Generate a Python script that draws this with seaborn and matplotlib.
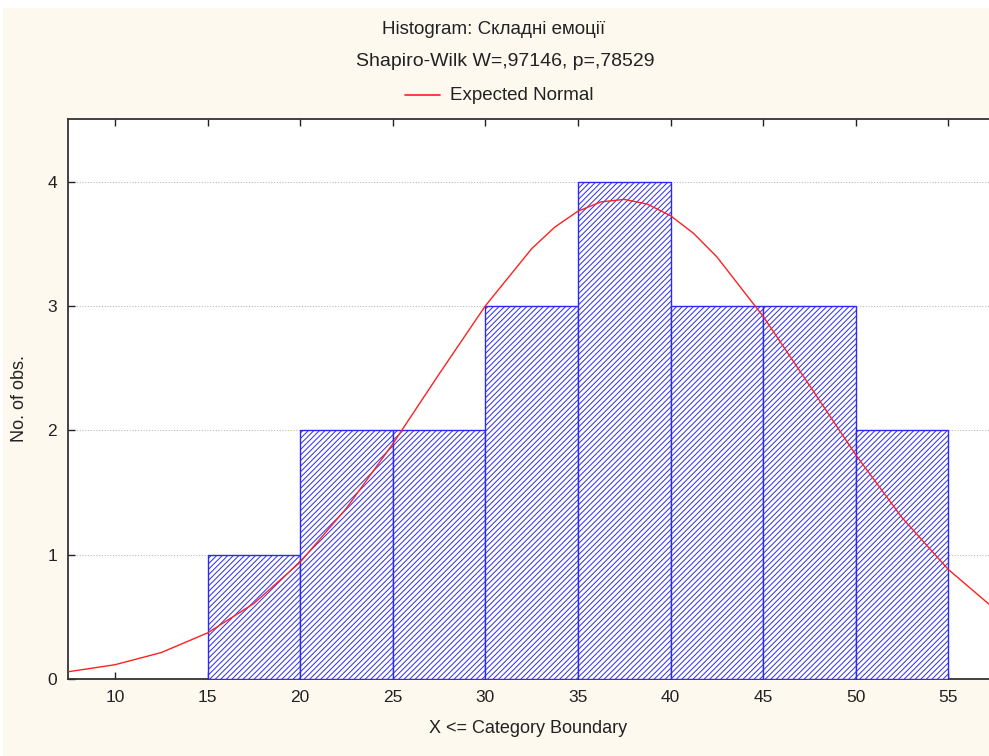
import matplotlib
matplotlib.use("Agg")
import matplotlib.pyplot as plt
import seaborn as sns
import pandas as pd

# ---- data ----
bin_edges = [15, 20, 25, 30, 35, 40, 45, 50, 55]
bin_centers = [17.5, 22.5, 27.5, 32.5, 37.5, 42.5, 47.5, 52.5]
counts = [1, 2, 2, 3, 4, 3, 3, 2]
curve_x = [7.5, 10, 12.5, 15, 17.5, 20, 22.5, 25, 27.5, 30, 32.5, 33.75, 35,
           36.25, 37.5, 38.75, 40, 41.25, 42.5, 45, 47.5, 50, 52.5, 55, 57.5]
curve_y = [0.059, 0.115, 0.213, 0.371, 0.608, 0.941, 1.375, 1.892, 2.454, 3.003,
           3.463, 3.637, 3.765, 3.84, 3.86, 3.822, 3.729, 3.586, 3.398, 2.919,
           2.364, 1.805, 1.299, 0.882, 0.564]
x_ticks = [10, 15, 20, 25, 30, 35, 40, 45, 50, 55]
y_ticks = [0, 1, 2, 3, 4]
title1 = "Histogram: Складні емоції"
title2 = "Shapiro-Wilk W=,97146, p=,78529"
legend_label = "Expected Normal"
xlabel = "X <= Category Boundary"
ylabel = "No. of obs."

sns.set_theme(style="white")
FONT = ['Liberation Sans Narrow', 'Liberation Sans', 'DejaVu Sans']
plt.rcParams['font.family'] = FONT
plt.rcParams['hatch.linewidth'] = 0.7

W, H = 989, 756
fig = plt.figure(figsize=(W / 100, H / 100), dpi=100)
fig.patch.set_facecolor('white')
cream = '#FEF9EF'
fig.add_artist(plt.Rectangle((3 / W, 0), 1, 1 - 8 / H, transform=fig.transFigure,
                             facecolor=cream, edgecolor='none', zorder=-10))

ax = fig.add_axes([68 / W, 1 - 679 / H, 1 - 68 / W, (679 - 119) / H])
ax.set_facecolor('white')

df = pd.DataFrame({"x": bin_centers, "n": counts})
sns.histplot(data=df, x="x", weights="n", bins=bin_edges, ax=ax,
             facecolor='white', edgecolor='#2A2AF5', linewidth=1.0,
             hatch='//////', alpha=1, zorder=3)
for p in ax.patches:
    p.set_edgecolor('#2A2AF5')
    p.set_hatch('//////')

sns.lineplot(x=curve_x, y=curve_y, ax=ax, color='#FF2020', linewidth=1.0,
             zorder=4, legend=False)

ax.set_xlim(7.46, 57.2)
ax.set_ylim(0, 4.507)
ax.set_xticks(x_ticks)
ax.set_yticks(y_ticks)
ax.tick_params(axis='both', direction='in', length=5, width=1, labelsize=12.5,
               colors='#222222', top=True, bottom=True, left=True, right=False,
               labeltop=False, pad=8)
ax.yaxis.grid(True, linestyle=(0, (1, 1.5)), color='#BBBBBB', linewidth=0.8)
ax.xaxis.grid(False)
ax.set_axisbelow(True)
for s in ['left', 'top', 'bottom']:
    ax.spines[s].set_color('#333333')
    ax.spines[s].set_linewidth(1.3)
ax.spines['right'].set_visible(False)
ax.set_xlabel(xlabel, fontsize=13, color='#222222', labelpad=11)
ax.set_ylabel(ylabel, fontsize=13, color='#222222', labelpad=14)

fig.text(494 / W, 1 - 30 / H, title1, ha='center', va='center', fontsize=13.5, color='#222222')
fig.text(505 / W, 1 - 62 / H, title2, ha='center', va='center', fontsize=14, color='#222222')
fig.add_artist(plt.Line2D([405 / W, 440 / W], [1 - 95 / H, 1 - 95 / H],
                          transform=fig.transFigure, color='#FF2020', linewidth=1.2))
fig.text(450 / W, 1 - 95 / H, legend_label, ha='left', va='center', fontsize=13.5, color='#222222')

fig.savefig("out.png", dpi=100, facecolor=fig.get_facecolor())
